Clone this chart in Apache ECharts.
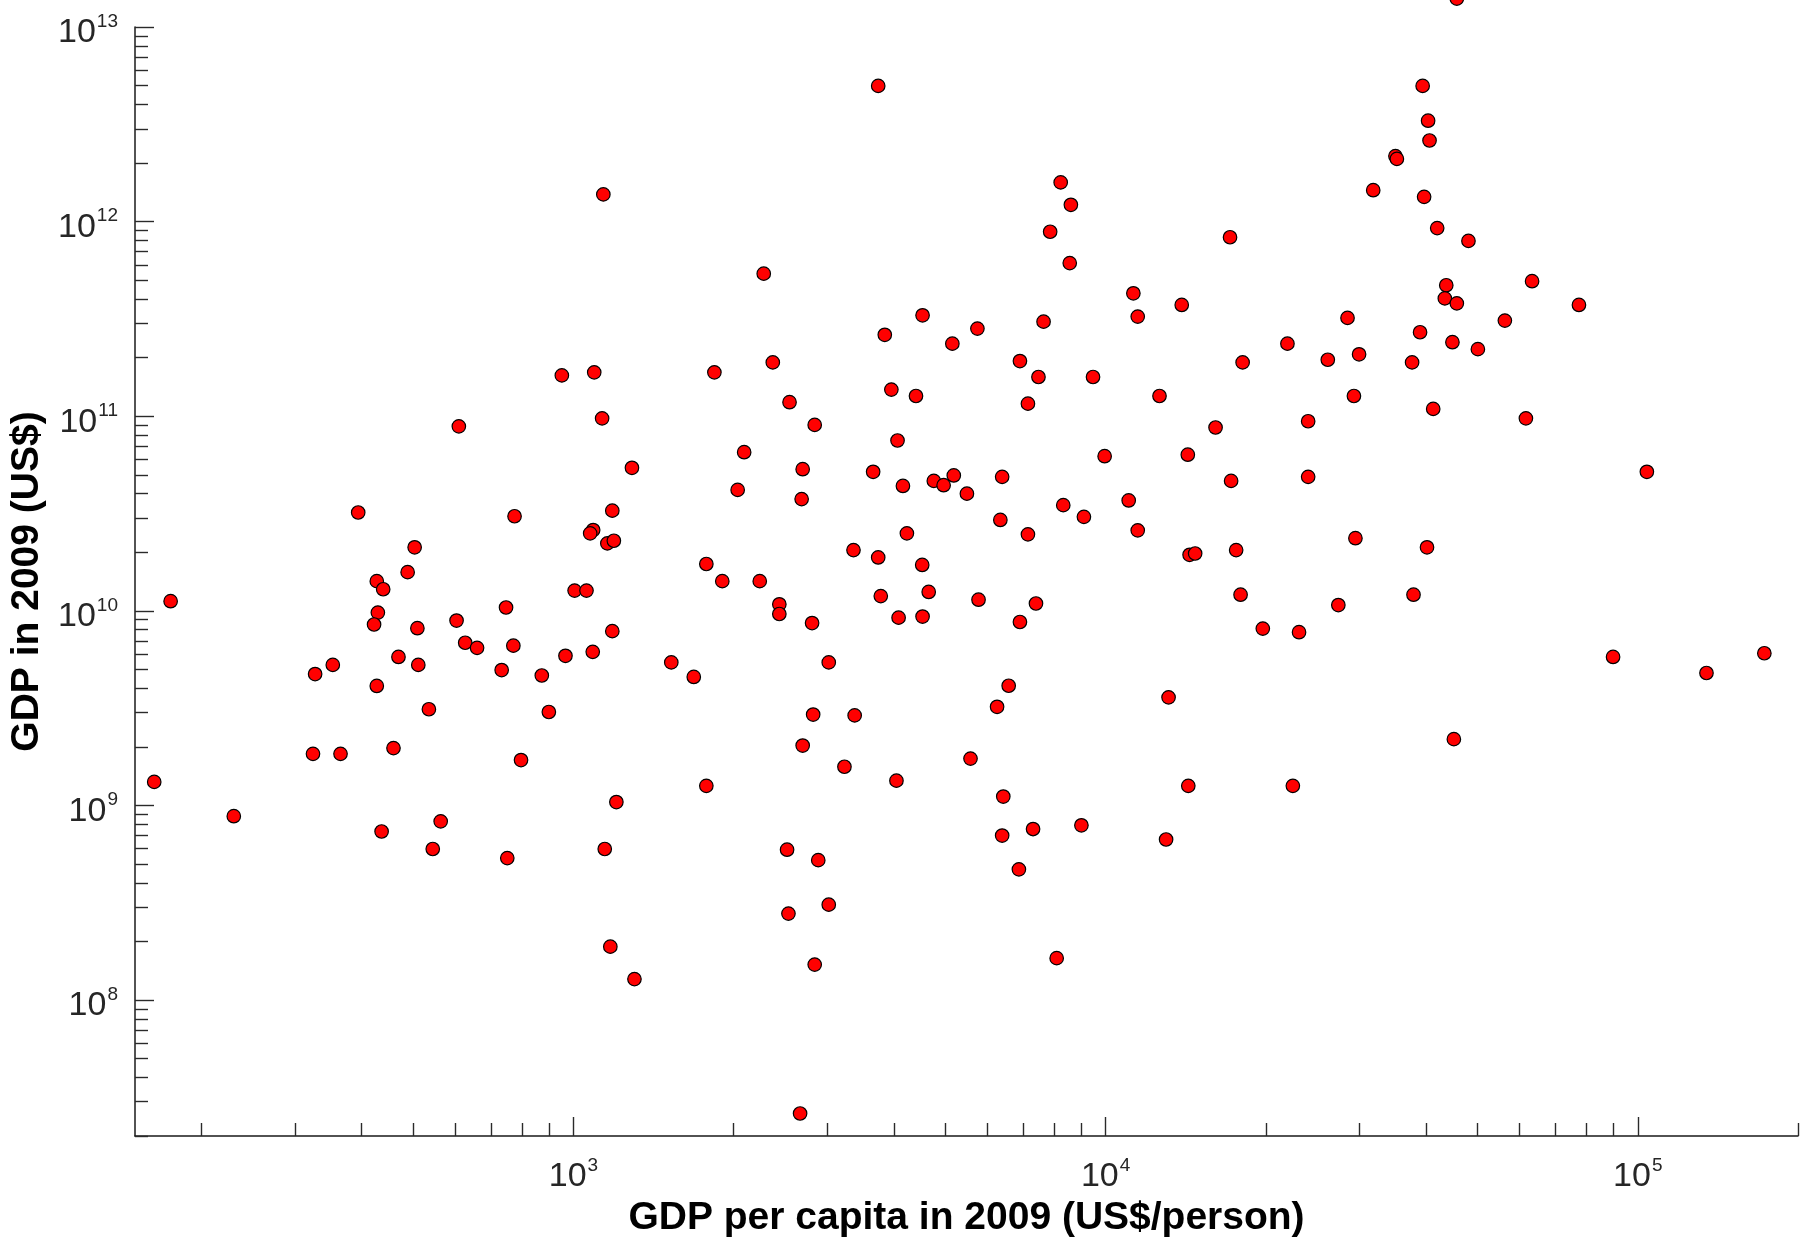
<!DOCTYPE html>
<html>
<head>
<meta charset="utf-8">
<script src="https://cdn.jsdelivr.net/npm/echarts@6/dist/echarts.min.js"></script>
<style>
html,body{margin:0;padding:0;background:#fff;}
#chart{width:1814px;height:1240px;}
</style>
</head>
<body>
<div id="chart"></div>
<script>
// GDP per capita in 2009 (US$/person)
const gdpPerCapita = [
  1138, 951, 1094, 1132, 609, 1288, 394, 775, 1183, 1089, 1075, 1158, 1191, 503,
  3738, 8233, 8604, 7866, 17130, 8562, 2278, 11275, 13900, 11490, 4529, 7645, 3846, 5742,
  5152, 6902, 7478, 9469, 18090, 1840, 2369, 3957, 4402, 7145, 12625, 2547, 2840, 16090,
  4064, 2093, 9957, 14270, 2696, 3657, 2035, 2684, 4160, 4755, 4961, 5184, 5487, 6391,
  8325, 9103, 11050, 17210, 6341, 7145, 11490, 4232, 3359, 3738, 4522, 1777, 14380, 14730, 17590,
  45700, 39420, 40360, 40610, 35040, 35260, 31830, 39670, 41980, 48060, 43660, 43390, 45700,
  63290, 77520, 28480, 56260, 38980, 44840, 50060, 21960, 26150, 29940, 37660, 29280, 41260,
  61620, 24020, 24020, 104000, 29470, 40170,
  488, 427, 439, 175, 429, 422, 509, 603, 747, 1005, 1058, 626, 659, 771, 1183, 966, 1087,
  1527, 1683, 327, 353, 469, 511, 427, 733, 872, 535, 899, 324, 365, 459, 797, 163, 230,
  1204, 563, 436, 544, 751, 1145, 1173, 1302,
  1904, 2239, 2437, 2437, 2808, 3780, 4083, 4529, 4651, 5770, 6902, 7398, 17930, 3018, 6574,
  6252, 13130, 2821, 3376, 2696, 3230, 5573, 4045, 1777, 14300, 6422, 6391, 7305, 9005, 12990,
  2520, 2884, 6871, 3018, 2535, 2840, 8091, 2666,
  19740, 23090, 27370, 37890, 89850, 134600, 172900, 45120, 22480
];
// GDP in 2009 (US$)
const gdpTotal = [
  1.38e12, 1.62e11, 1.68e11, 9.75e10, 8.87e10, 5.43e10, 3.20e10, 3.06e10, 3.27e10, 2.60e10, 2.50e10, 2.22e10, 2.29e10, 2.12e10,
  4.98e12, 1.59e12, 1.22e12, 8.87e11, 8.31e11, 6.12e11, 5.40e11, 4.28e11, 3.73e11, 3.25e11, 3.30e11, 3.06e11, 2.62e11, 2.82e11,
  2.36e11, 1.92e11, 1.59e11, 1.59e11, 1.89e11, 1.68e11, 1.89e11, 1.37e11, 1.27e11, 1.16e11, 1.27e11, 1.18e11, 9.02e10, 8.75e10,
  7.50e10, 6.53e10, 6.23e10, 6.34e10, 5.34e10, 5.18e10, 4.18e10, 3.75e10, 4.38e10, 4.65e10, 4.42e10, 4.96e10, 4.00e10, 4.88e10,
  3.49e10, 3.04e10, 3.69e10, 4.65e10, 2.93e10, 2.47e10, 2.59e10, 2.50e10, 2.05e10, 1.88e10, 1.72e10, 1.74e10, 1.94e10, 1.97e10, 2.05e10,
  1.40e13, 4.98e12, 3.30e12, 2.61e12, 2.17e12, 2.10e12, 1.45e12, 1.34e12, 9.26e11, 7.96e11, 4.71e11, 4.03e11, 3.80e11,
  4.94e11, 3.73e11, 3.20e11, 3.10e11, 2.70e11, 2.40e11, 2.21e11, 2.36e11, 1.95e11, 2.08e11, 1.89e11, 1.27e11, 1.09e11,
  9.75e10, 9.42e10, 4.88e10, 5.18e10, 2.36e10, 2.12e10,
  1.58e10, 1.42e10, 1.29e10, 1.12e10, 9.79e9, 8.50e9, 8.14e9, 8.91e9, 1.04e10, 1.27e10, 1.27e10, 6.85e9, 6.45e9, 6.62e9, 7.86e9, 5.87e9, 6.15e9,
  5.43e9, 4.57e9, 4.73e9, 5.27e9, 5.79e9, 5.27e9, 4.11e9, 4.96e9, 4.65e9, 3.12e9, 3.02e9, 1.84e9, 1.84e9, 1.97e9, 1.71e9, 1.32e9, 8.80e8,
  1.04e9, 8.28e8, 7.34e8, 5.97e8, 5.36e8, 5.97e8, 1.88e8, 1.28e8,
  1.42e10, 1.42e10, 1.08e10, 9.63e9, 8.65e9, 1.19e10, 9.22e9, 9.34e9, 1.25e10, 1.14e10, 8.76e9, 1.09e10, 1.21e10, 5.43e9, 4.12e9,
  3.21e9, 3.59e9, 2.93e9, 2.90e9, 2.03e9, 1.58e9, 1.74e9, 1.34e9, 1.26e9, 1.26e9, 1.11e9, 7.00e8, 7.56e8, 7.90e8, 6.68e8,
  5.92e8, 5.23e8, 4.69e8, 3.09e8, 2.78e8, 1.52e8, 1.64e8, 2.61e7,
  8.10e9, 7.76e9, 1.07e10, 1.21e10, 5.79e9, 4.79e9, 6.05e9, 2.19e9, 1.26e9
];

// Axis ranges and tick values
const xRange = [150, 2e5];
const yRange = [2e7, 1e13];
const xMajorTicks = [1e3, 1e4, 1e5];
const yMajorTicks = [1e8, 1e9, 1e10, 1e11, 1e12, 1e13];
const xMinorTicks = [200, 300, 400, 500, 600, 700, 800, 900,
  2000, 3000, 4000, 5000, 6000, 7000, 8000, 9000,
  20000, 30000, 40000, 50000, 60000, 70000, 80000, 90000, 200000];
const yMinorTicks = [2e7, 3e7, 4e7, 5e7, 6e7, 7e7, 8e7, 9e7,
  2e8, 3e8, 4e8, 5e8, 6e8, 7e8, 8e8, 9e8,
  2e9, 3e9, 4e9, 5e9, 6e9, 7e9, 8e9, 9e9,
  2e10, 3e10, 4e10, 5e10, 6e10, 7e10, 8e10, 9e10,
  2e11, 3e11, 4e11, 5e11, 6e11, 7e11, 8e11, 9e11,
  2e12, 3e12, 4e12, 5e12, 6e12, 7e12, 8e12, 9e12];

const points = gdpPerCapita.map((x, i) => [x, gdpTotal[i]]);

const FONT = '"Liberation Sans", Arial, sans-serif';
const powFormatter = function (v) {
  const e = Math.round(Math.log10(v));
  return '{b|10}{s|' + e + '}';
};
const labelRich = {
  b: { fontSize: 34, fontFamily: FONT, color: '#262626', padding: [4, 0, 0, 0] },
  s: { fontSize: 19, fontFamily: FONT, color: '#262626', verticalAlign: 'top', padding: [0, 0, 0, 1] }
};

const chart = echarts.init(document.getElementById('chart'), null, { renderer: 'canvas' });
chart.setOption({
  animation: false,
  backgroundColor: '#ffffff',
  grid: { left: 135, top: 27, right: 16, bottom: 104, containLabel: false, outerBoundsMode: 'none' },
  xAxis: [
    {
      type: 'log', logBase: 10, min: xRange[0], max: xRange[1], position: 'bottom',
      name: 'GDP per capita in 2009 (US$/person)', nameLocation: 'middle', nameGap: 63,
      nameTextStyle: { fontSize: 39, fontWeight: 'bold', fontFamily: FONT, color: '#000' },
      axisLine: { show: true, lineStyle: { color: '#1a1a1a', width: 1.5 } },
      axisTick: { show: true, inside: true, length: 19, customValues: xMajorTicks, lineStyle: { color: '#2a2a2a', width: 1.4 } },
      axisLabel: { show: true, customValues: xMajorTicks, margin: 20, formatter: powFormatter, rich: labelRich },
      splitLine: { show: false }, minorTick: { show: false }, minorSplitLine: { show: false }
    },
    {
      type: 'log', logBase: 10, min: xRange[0], max: xRange[1], position: 'bottom',
      axisLine: { show: false },
      axisTick: { show: true, inside: true, length: 13, customValues: xMinorTicks, lineStyle: { color: '#2a2a2a', width: 1.4 } },
      axisLabel: { show: false },
      splitLine: { show: false }
    }
  ],
  yAxis: [
    {
      type: 'log', logBase: 10, min: yRange[0], max: yRange[1], position: 'left',
      name: 'GDP in 2009 (US$)', nameLocation: 'middle', nameGap: 80,
      nameTextStyle: { fontSize: 39, fontWeight: 'bold', fontFamily: FONT, color: '#000' },
      axisLine: { show: true, lineStyle: { color: '#1a1a1a', width: 1.5 } },
      axisTick: { show: true, inside: true, length: 19, customValues: yMajorTicks, lineStyle: { color: '#2a2a2a', width: 1.4 } },
      axisLabel: { show: true, customValues: yMajorTicks, margin: 17, padding: [8, 0, 0, 0], formatter: powFormatter, rich: labelRich },
      splitLine: { show: false }, minorTick: { show: false }, minorSplitLine: { show: false }
    },
    {
      type: 'log', logBase: 10, min: yRange[0], max: yRange[1], position: 'left',
      axisLine: { show: false },
      axisTick: { show: true, inside: true, length: 13, customValues: yMinorTicks, lineStyle: { color: '#2a2a2a', width: 1.4 } },
      axisLabel: { show: false },
      splitLine: { show: false }
    }
  ],
  series: [
    {
      type: 'scatter', xAxisIndex: 0, yAxisIndex: 0,
      data: points, clip: false, silent: true,
      symbol: 'circle', symbolSize: 13.5,
      itemStyle: { color: '#ff0000', borderColor: '#000000', borderWidth: 1.2, opacity: 1 }
    }
  ]
});
</script>
</body>
</html>
